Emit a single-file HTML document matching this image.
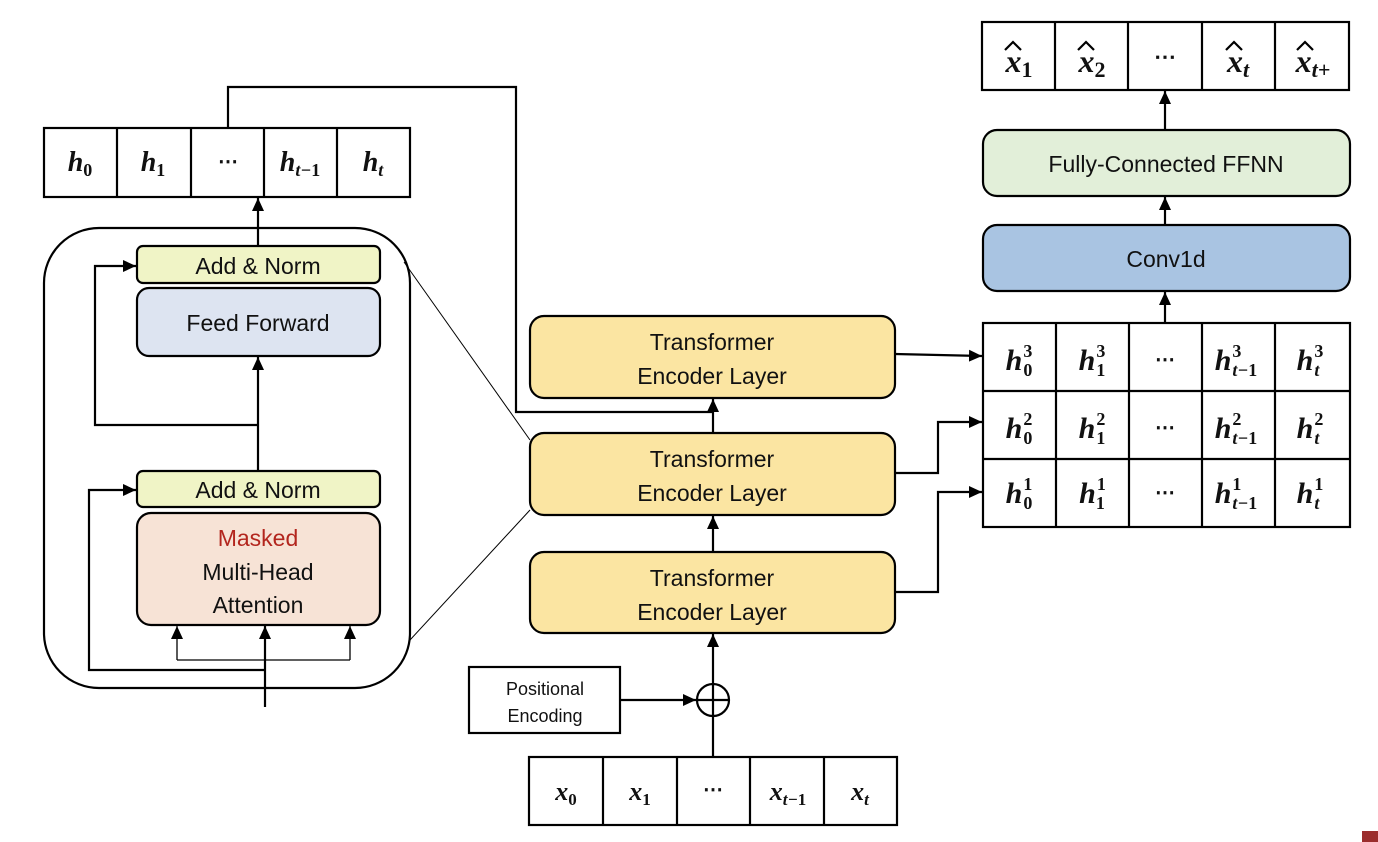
<!DOCTYPE html>
<html><head><meta charset="utf-8"><style>
html,body{margin:0;padding:0;background:#fff;}
svg{display:block;}
.t{font-family:"Liberation Sans",sans-serif;fill:#111;text-anchor:middle;}
.m{font-family:"Liberation Serif",serif;font-weight:bold;font-style:italic;fill:#111;}
.mn{font-family:"Liberation Serif",serif;font-weight:bold;font-style:normal;}
</style></head><body>
<svg width="1378" height="842" viewBox="0 0 1378 842" xmlns="http://www.w3.org/2000/svg">
<defs><marker id="ah" markerWidth="14" markerHeight="14" refX="13" refY="6" orient="auto" markerUnits="userSpaceOnUse"><path d="M0,0 L13,6 L0,12 z" fill="#000"/></marker></defs>
<g stroke="#000" stroke-width="2.2" fill="none">
<rect x="44" y="228" width="366" height="460" rx="55"/>
<line x1="404" y1="262" x2="530" y2="440" stroke-width="1"/>
<line x1="410" y1="640" x2="530" y2="510" stroke-width="1"/>
<rect x="44" y="128" width="366" height="69"/>
<line x1="117" y1="128" x2="117" y2="197"/><line x1="191" y1="128" x2="191" y2="197"/><line x1="264" y1="128" x2="264" y2="197"/><line x1="337" y1="128" x2="337" y2="197"/>
<polyline points="228,128 228,87 516,87 516,412 713,412"/>
<line x1="258" y1="246" x2="258" y2="198" marker-end="url(#ah)"/>
<line x1="258" y1="471" x2="258" y2="357" marker-end="url(#ah)"/>
<polyline points="258,425 95,425 95,266 136,266" marker-end="url(#ah)"/>
<polyline points="265,670 89,670 89,490 136,490" marker-end="url(#ah)"/>
<line x1="265" y1="707" x2="265" y2="626" marker-end="url(#ah)"/>
<polyline points="177,660 177,626" stroke-width="1.3" marker-end="url(#ah)"/>
<polyline points="350,660 350,626" stroke-width="1.3" marker-end="url(#ah)"/>
<line x1="177" y1="660" x2="350" y2="660" stroke-width="1.3"/>
<rect x="137" y="246" width="243" height="37" rx="6" fill="#f0f4c6"/>
<rect x="137" y="288" width="243" height="68" rx="12" fill="#dde4f1"/>
<rect x="137" y="471" width="243" height="36" rx="6" fill="#f0f4c6"/>
<rect x="137" y="513" width="243" height="112" rx="14" fill="#f7e3d6"/>
<rect x="530" y="316" width="365" height="82" rx="14" fill="#fbe5a2"/>
<rect x="530" y="433" width="365" height="82" rx="14" fill="#fbe5a2"/>
<rect x="530" y="552" width="365" height="81" rx="14" fill="#fbe5a2"/>
<line x1="713" y1="433" x2="713" y2="399" marker-end="url(#ah)"/>
<line x1="713" y1="552" x2="713" y2="516" marker-end="url(#ah)"/>
<line x1="713" y1="683" x2="713" y2="634" marker-end="url(#ah)"/>
<circle cx="713" cy="700" r="16"/>
<line x1="697" y1="700" x2="729" y2="700"/><line x1="713" y1="684" x2="713" y2="757"/>
<rect x="469" y="667" width="151" height="66"/>
<line x1="620" y1="700" x2="696" y2="700" marker-end="url(#ah)"/>
<rect x="529" y="757" width="368" height="68"/>
<line x1="603" y1="757" x2="603" y2="825"/><line x1="677" y1="757" x2="677" y2="825"/><line x1="750" y1="757" x2="750" y2="825"/><line x1="824" y1="757" x2="824" y2="825"/>
<rect x="983" y="323" width="367" height="204"/>
<line x1="983" y1="391" x2="1350" y2="391"/><line x1="983" y1="459" x2="1350" y2="459"/>
<line x1="1056" y1="323" x2="1056" y2="527"/><line x1="1129" y1="323" x2="1129" y2="527"/><line x1="1202" y1="323" x2="1202" y2="527"/><line x1="1275" y1="323" x2="1275" y2="527"/>
<line x1="895" y1="354" x2="982" y2="356" marker-end="url(#ah)"/>
<polyline points="895,473 938,473 938,422 982,422" marker-end="url(#ah)"/>
<polyline points="895,592 938,592 938,492 982,492" marker-end="url(#ah)"/>
<rect x="983" y="225" width="367" height="66" rx="14" fill="#a9c4e2"/>
<rect x="983" y="130" width="367" height="66" rx="14" fill="#e2efd9"/>
<line x1="1165" y1="323" x2="1165" y2="292" marker-end="url(#ah)"/>
<line x1="1165" y1="225" x2="1165" y2="197" marker-end="url(#ah)"/>
<line x1="1165" y1="130" x2="1165" y2="91" marker-end="url(#ah)"/>
<rect x="982" y="22" width="367" height="68"/>
<line x1="1055" y1="22" x2="1055" y2="90"/><line x1="1128" y1="22" x2="1128" y2="90"/><line x1="1202" y1="22" x2="1202" y2="90"/><line x1="1275" y1="22" x2="1275" y2="90"/>
</g>
<rect x="1362" y="831" width="16" height="11" fill="#9b2d2d"/>
<g class="t" font-size="23">
<text x="258" y="274">Add &amp; Norm</text>
<text x="258" y="331">Feed Forward</text>
<text x="258" y="498">Add &amp; Norm</text>
<text x="258" y="546" style="fill:#b3261e">Masked</text>
<text x="258" y="580">Multi-Head</text>
<text x="258" y="613">Attention</text>
<text x="712" y="350">Transformer</text><text x="712" y="384">Encoder Layer</text>
<text x="712" y="467">Transformer</text><text x="712" y="501">Encoder Layer</text>
<text x="712" y="586">Transformer</text><text x="712" y="620">Encoder Layer</text>
<text x="1166" y="267">Conv1d</text>
<text x="1166" y="172">Fully-Connected FFNN</text>
<text x="545" y="695" font-size="18">Positional</text><text x="545" y="722" font-size="18">Encoding</text>
</g>
<g class="m" font-size="28" text-anchor="middle">
<text x="80" y="171">h<tspan class="mn" font-size="18" dy="5">0</tspan></text>
<text x="153" y="171">h<tspan class="mn" font-size="18" dy="5">1</tspan></text>
<text x="228" y="168" class="mn" font-size="20">⋯</text>
<text x="300" y="171">h<tspan font-size="18" dy="5">t−<tspan class="mn">1</tspan></tspan></text>
<text x="373" y="171">h<tspan font-size="18" dy="5">t</tspan></text>
<text x="566" y="800" font-size="26">x<tspan class="mn" font-size="17" dy="5">0</tspan></text>
<text x="640" y="800" font-size="26">x<tspan class="mn" font-size="17" dy="5">1</tspan></text>
<text x="713" y="796" class="mn" font-size="20">⋯</text>
<text x="788" y="800" font-size="26">x<tspan font-size="17" dy="5">t−<tspan class="mn">1</tspan></tspan></text>
<text x="860" y="800" font-size="26">x<tspan font-size="17" dy="5">t</tspan></text>
</g>
<g class="m" font-size="30" text-anchor="middle">
<text x="1019" y="370">h<tspan class="mn" font-size="18" dx="1" dy="-13">3</tspan><tspan class="mn" font-size="18" dx="-9" dy="19">0</tspan></text>
<text x="1092" y="370">h<tspan class="mn" font-size="18" dx="1" dy="-13">3</tspan><tspan class="mn" font-size="18" dx="-9" dy="19">1</tspan></text>
<text x="1165" y="366" class="mn" font-size="20">⋯</text>
<text x="1236" y="370">h<tspan class="mn" font-size="18" dx="1" dy="-13">3</tspan><tspan font-size="18" dx="-9" dy="19">t−<tspan class="mn">1</tspan></tspan></text>
<text x="1310" y="370">h<tspan class="mn" font-size="18" dx="1" dy="-13">3</tspan><tspan font-size="18" dx="-9" dy="19">t</tspan></text>
<text x="1019" y="438">h<tspan class="mn" font-size="18" dx="1" dy="-13">2</tspan><tspan class="mn" font-size="18" dx="-9" dy="19">0</tspan></text>
<text x="1092" y="438">h<tspan class="mn" font-size="18" dx="1" dy="-13">2</tspan><tspan class="mn" font-size="18" dx="-9" dy="19">1</tspan></text>
<text x="1165" y="434" class="mn" font-size="20">⋯</text>
<text x="1236" y="438">h<tspan class="mn" font-size="18" dx="1" dy="-13">2</tspan><tspan font-size="18" dx="-9" dy="19">t−<tspan class="mn">1</tspan></tspan></text>
<text x="1310" y="438">h<tspan class="mn" font-size="18" dx="1" dy="-13">2</tspan><tspan font-size="18" dx="-9" dy="19">t</tspan></text>
<text x="1019" y="503">h<tspan class="mn" font-size="18" dx="1" dy="-13">1</tspan><tspan class="mn" font-size="18" dx="-9" dy="19">0</tspan></text>
<text x="1092" y="503">h<tspan class="mn" font-size="18" dx="1" dy="-13">1</tspan><tspan class="mn" font-size="18" dx="-9" dy="19">1</tspan></text>
<text x="1165" y="499" class="mn" font-size="20">⋯</text>
<text x="1236" y="503">h<tspan class="mn" font-size="18" dx="1" dy="-13">1</tspan><tspan font-size="18" dx="-9" dy="19">t−<tspan class="mn">1</tspan></tspan></text>
<text x="1310" y="503">h<tspan class="mn" font-size="18" dx="1" dy="-13">1</tspan><tspan font-size="18" dx="-9" dy="19">t</tspan></text>
</g>
<g class="m" font-size="32" text-anchor="middle">
<text x="1019" y="72">x<tspan class="mn" font-size="22" dy="5">1</tspan></text>
<text x="1092" y="72">x<tspan class="mn" font-size="22" dy="5">2</tspan></text>
<text x="1165" y="64" class="mn" font-size="22">⋯</text>
<text x="1238" y="72">x<tspan font-size="22" dy="5">t</tspan></text>
<text x="1313" y="72">x<tspan font-size="22" dy="5">t+</tspan></text>
</g>
<g stroke="#000" stroke-width="2.2" fill="none">
<polyline points="1005,50 1013,42 1021,50"/><polyline points="1078,50 1086,42 1094,50"/><polyline points="1226,50 1234,42 1242,50"/><polyline points="1297,50 1305,42 1313,50"/>
</g>
</svg>
</body></html>
